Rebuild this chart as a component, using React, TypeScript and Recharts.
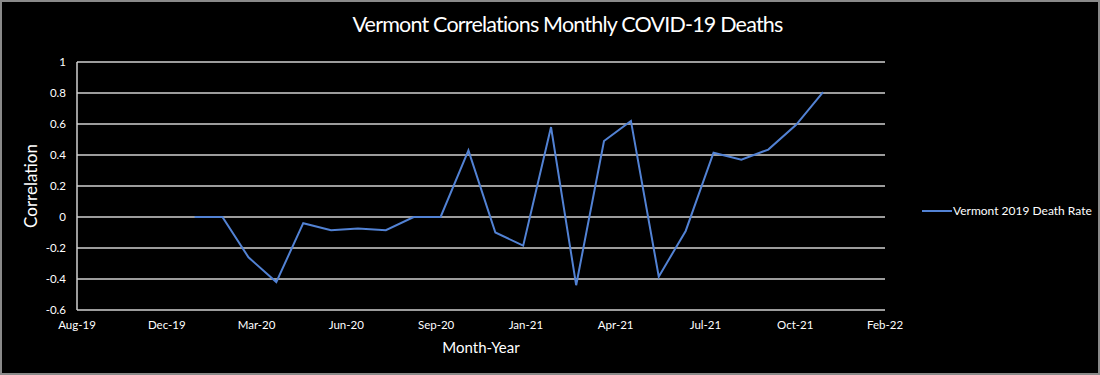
import React from "react";
import { LineChart, Line, XAxis, YAxis, CartesianGrid, Legend } from "recharts";

const MONTHS = [
  "2020-01", "2020-02", "2020-03", "2020-04", "2020-05", "2020-06",
  "2020-07", "2020-08", "2020-09", "2020-10", "2020-11", "2020-12",
  "2021-01", "2021-02", "2021-03", "2021-04", "2021-05", "2021-06",
  "2021-07", "2021-08", "2021-09", "2021-10", "2021-11", "2021-12",
];

const VERMONT_2019_DEATH_RATE = [
  0, 0, -0.26, -0.42, -0.04, -0.085,
  -0.075, -0.085, 0, 0, 0.43, -0.1,
  -0.185, 0.58, -0.44, 0.49, 0.62, -0.385,
  -0.09, 0.415, 0.37, 0.435, 0.595, 0.805,
];

const X_TICK_LABELS = [
  "Aug-19", "Dec-19", "Mar-20", "Jun-20", "Sep-20",
  "Jan-21", "Apr-21", "Jul-21", "Oct-21", "Feb-22",
];

const Y_TICKS = [-0.6, -0.4, -0.2, 0, 0.2, 0.4, 0.6, 0.8, 1];

const SERIES_NAME = "Vermont 2019 Death Rate";
const TITLE = "Vermont Correlations Monthly COVID-19 Deaths";

const DAY = 86400000;
const AXIS_START = Date.UTC(2019, 7, 23);
const TICK_STEP = 100 * DAY;
const X_TICKS = X_TICK_LABELS.map((_, i) => AXIS_START + i * TICK_STEP);
const AXIS_END = X_TICKS[X_TICKS.length - 1];

const data = MONTHS.map((m, i) => {
  const [y, mo] = m.split("-").map(Number);
  return { t: Date.UTC(y, mo - 1, 1), v: VERMONT_2019_DEATH_RATE[i] };
});

const LINE_COLOR = "#5282d4";
const GRID_COLOR = "#d0d0d0";
const FONT = "Lato, 'Noto Sans', sans-serif";

const LegendContent = () => (
  <div
    style={{
      display: "flex",
      alignItems: "center",
      fontFamily: FONT,
      fontSize: 12,
      lineHeight: "15px",
      color: "#ffffff",
      whiteSpace: "nowrap",
    }}
  >
    <svg width={30} height={4} style={{ display: "block" }}>
      <line x1={0} y1={2} x2={30} y2={2} stroke={LINE_COLOR} strokeWidth={2} />
    </svg>
    <span style={{ marginLeft: 1 }}>{SERIES_NAME}</span>
  </div>
);

export default function App() {
  return (
    <div
      style={{
        position: "absolute",
        left: 0,
        top: 0,
        width: 1100,
        height: 375,
        background: "#000000",
        overflow: "hidden",
      }}
    >
      <LineChart
        width={1100}
        height={375}
        data={data}
        margin={{ top: 62, right: 215, bottom: 0, left: 0 }}
      >
        <CartesianGrid
          vertical={false}
          stroke={GRID_COLOR}
          strokeWidth={1.5}
        />
        <XAxis
          dataKey="t"
          type="number"
          scale="linear"
          domain={[AXIS_START, AXIS_END]}
          ticks={X_TICKS}
          interval={0}
          allowDataOverflow
          height={65}
          axisLine={false}
          tickLine={false}
          tickSize={0}
          tickMargin={11}
          tick={{ fill: "#ffffff", fontSize: 11.5, fontFamily: FONT }}
          tickFormatter={(v: number) =>
            X_TICK_LABELS[Math.round((v - AXIS_START) / TICK_STEP)] ?? ""
          }
          label={{
            value: "Month-Year",
            position: "insideBottom",
            offset: 22,
            fill: "#ffffff",
            fontSize: 15,
            fontFamily: FONT,
          }}
        />
        <YAxis
          type="number"
          domain={[-0.6, 1]}
          ticks={Y_TICKS}
          interval={0}
          width={77}
          axisLine={{ stroke: GRID_COLOR, strokeWidth: 1.5 }}
          tickLine={false}
          tickSize={0}
          tickMargin={11}
          tick={{ fill: "#ffffff", fontSize: 11.5, fontFamily: FONT }}
          label={{
            value: "Correlation",
            angle: -90,
            position: "insideLeft",
            offset: 31,
            fill: "#ffffff",
            fontSize: 17,
            fontFamily: FONT,
            style: { textAnchor: "middle" },
          }}
        />
        <Legend
          layout="horizontal"
          verticalAlign="middle"
          align="center"
          wrapperStyle={{ left: 922, top: 203, width: 178 }}
          content={<LegendContent />}
        />
        <Line
          type="linear"
          dataKey="v"
          name={SERIES_NAME}
          stroke={LINE_COLOR}
          strokeWidth={2}
          dot={false}
          activeDot={false}
          isAnimationActive={false}
        />
      </LineChart>
      <svg
        width={1100}
        height={45}
        style={{ position: "absolute", left: 0, top: 0, pointerEvents: "none" }}
      >
        <text
          x={567.5}
          y={32}
          textAnchor="middle"
          fill="#ffffff"
          fontFamily={FONT}
          fontSize={21.5}
          letterSpacing={-0.8}
        >
          {TITLE}
        </text>
      </svg>
      <div
        style={{
          position: "absolute",
          left: 0,
          top: 0,
          width: 1100,
          height: 375,
          boxSizing: "border-box",
          border: "2px solid #8a8a8a",
          pointerEvents: "none",
        }}
      />
    </div>
  );
}
